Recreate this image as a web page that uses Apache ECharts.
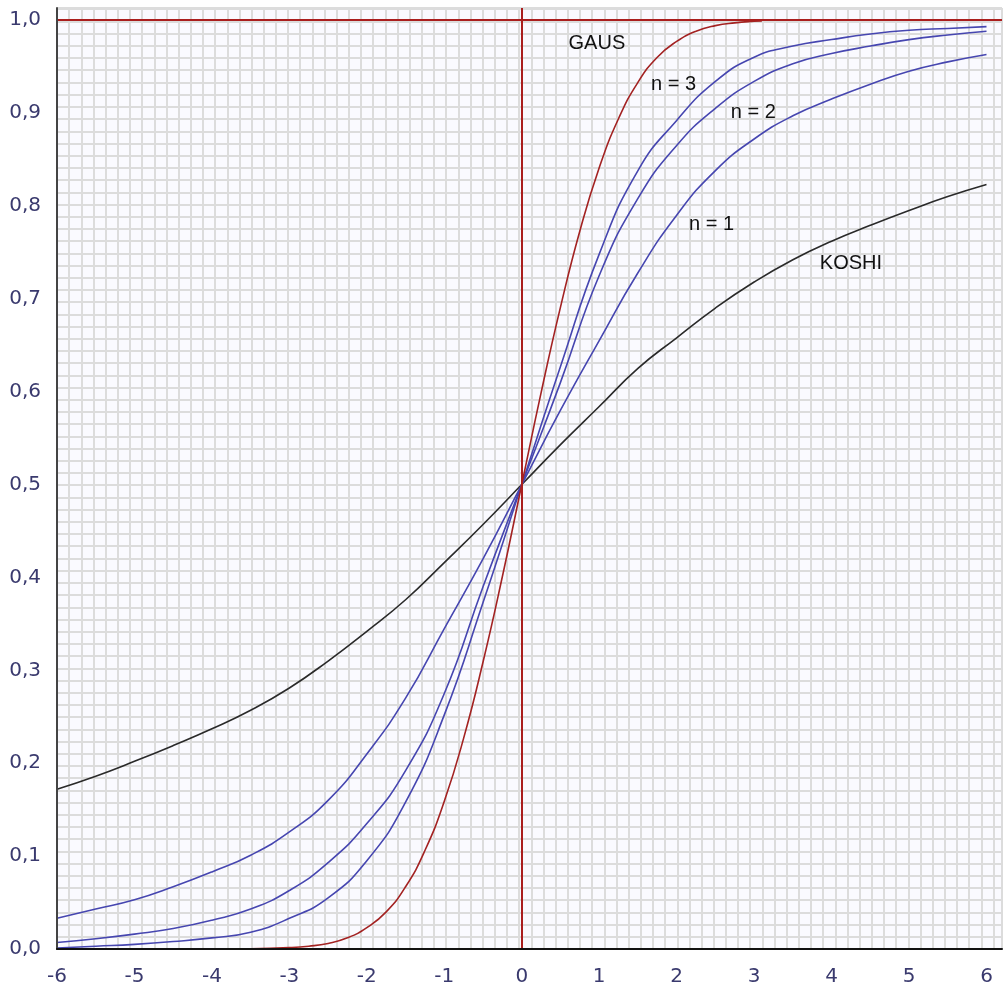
<!DOCTYPE html>
<html>
<head>
<meta charset="utf-8">
<title>GAUS / KOSHI</title>
<script src="https://cdn.jsdelivr.net/npm/echarts@6/dist/echarts.min.js"></script>
<style>
	html, body { margin: 0; padding: 0; background: #fff; }
	#chart { width: 1005px; height: 996px; }
</style>
</head>
<body>
<div id="chart"></div>
<script>
// x values shared by the blue curves and KOSHI
var xs = [-6, -5.5, -5, -4.5, -4, -3.5, -3, -2.5, -2, -1.5, -1, -0.5, 0,
	0.5, 1, 1.5, 2, 2.5, 3, 3.5, 4, 4.5, 5, 5.5, 6];
var koshi = [0.172, 0.186, 0.202, 0.219, 0.237, 0.257, 0.281, 0.31, 0.342, 0.376, 0.416, 0.457, 0.5,
	0.543, 0.584, 0.625, 0.658, 0.69, 0.718, 0.742, 0.762, 0.779, 0.795, 0.81, 0.823];
var n1 = [0.033, 0.043, 0.053, 0.067, 0.083, 0.101, 0.126, 0.16, 0.21, 0.27, 0.345, 0.42, 0.5,
	0.58, 0.655, 0.728, 0.79, 0.838, 0.872, 0.897, 0.915, 0.931, 0.945, 0.955, 0.963];
var n2 = [0.007, 0.011, 0.016, 0.022, 0.031, 0.043, 0.063, 0.093, 0.135, 0.192, 0.275, 0.39, 0.5,
	0.61, 0.725, 0.808, 0.865, 0.905, 0.934, 0.953, 0.964, 0.972, 0.979, 0.984, 0.988];
var n3 = [0.001, 0.003, 0.005, 0.008, 0.012, 0.018, 0.033, 0.055, 0.095, 0.158, 0.252, 0.373, 0.5,
	0.627, 0.748, 0.838, 0.892, 0.934, 0.96, 0.972, 0.979, 0.985, 0.989, 0.991, 0.993];

// GAUS is drawn from -4 to about 3.1
var gx = [-4, -3.5, -3, -2.75, -2.5, -2.25, -2, -1.75, -1.5, -1.25, -1, -0.75, -0.5, -0.25, 0,
	0.25, 0.5, 0.75, 1, 1.25, 1.5, 1.75, 2, 2.25, 2.5, 2.75, 3, 3.1];
var gaus = [0, 0.0003, 0.0015, 0.003, 0.006, 0.012, 0.023, 0.04, 0.067, 0.106, 0.159, 0.227, 0.309, 0.401, 0.5,
	0.599, 0.691, 0.773, 0.841, 0.894, 0.933, 0.96, 0.977, 0.988, 0.994, 0.997, 0.9987, 0.999];

var xTicks = [-6, -5, -4, -3, -2, -1, 0, 1, 2, 3, 4, 5, 6];
var yTicks = ['0,0', '0,1', '0,2', '0,3', '0,4', '0,5', '0,6', '0,7', '0,8', '0,9', '1,0'];

// curve captions: [text, x, y]
var captions = [
	['GAUS', 0.97, 0.975],
	['n = 3', 1.96, 0.931],
	['n = 2', 2.99, 0.9],
	['n = 1', 2.45, 0.78],
	['KOSHI', 4.25, 0.738]
];

function pairs(x, y) {
	var out = [];
	for (var i = 0; i < x.length; i++) {
		out.push([x[i], y[i]]);
	}
	return out;
}

var chart = echarts.init(document.getElementById('chart'));

var blue = '#4646b0';

function captionPoint(c) {
	return {
		symbol: 'circle',
		symbolSize: 1,
		silent: true,
		itemStyle: { color: 'rgba(0,0,0,0)' },
		label: {
			show: true,
			position: 'inside',
			formatter: c[0],
			color: '#111',
			fontSize: 20,
			fontFamily: 'Liberation Sans, Arial, sans-serif'
		},
		data: [{ coord: [c[1], c[2]] }]
	};
}

function curve(name, x, y, color, z, cap) {
	return {
		name: name,
		type: 'line',
		data: pairs(x, y),
		smooth: true,
		symbol: 'none',
		lineStyle: { color: color, width: 1.6 },
		markPoint: captionPoint(cap),
		z: z
	};
}

var gausSeries = curve('GAUS', gx, gaus, '#a32222', 4, captions[0]);
gausSeries.markLine = {
	silent: true,
	symbol: 'none',
	label: { show: false },
	lineStyle: { color: '#aa1e1e', width: 2, type: 'solid' },
	data: [{ yAxis: 1 }, { xAxis: 0 }]
};

var option = {
	animation: false,
	backgroundColor: '#ffffff',
	grid: {
		left: 57,
		right: 0,
		top: 8,
		bottom: 47,
		show: true,
		backgroundColor: '#fafaff',
		borderWidth: 0
	},
	xAxis: [
		{
			type: 'value',
			min: -6,
			max: 6.2,
			interval: 1,
			axisLine: { show: true, onZero: false, lineStyle: { color: '#111', width: 2 } },
			axisTick: { show: false },
			splitLine: { show: false },
			axisLabel: {
				margin: 18,
				color: '#3a3a6e',
				fontSize: 20,
				fontFamily: 'DejaVu Sans, sans-serif',
				formatter: function (v) {
					return xTicks.indexOf(Math.round(v * 1000) / 1000) >= 0 ? String(v) : '';
				}
			},
			z: 5
		},
		{
			// helper axis, only for the fine square grid
			type: 'value',
			min: 0,
			max: 77.7,
			interval: 1,
			axisLine: { show: false },
			axisTick: { show: false },
			axisLabel: { show: false },
			splitLine: { show: true, lineStyle: { color: '#dcdcdc', width: 2 } }
		}
	],
	yAxis: [
		{
			type: 'value',
			min: 0,
			max: 1.013,
			interval: 0.1,
			axisLine: { show: true, onZero: false, lineStyle: { color: '#444', width: 2 } },
			axisTick: { show: false },
			splitLine: { show: false },
			axisLabel: {
				margin: 16,
				color: '#3a3a6e',
				fontSize: 20,
				fontFamily: 'DejaVu Sans, sans-serif',
				formatter: function (v) {
					var k = Math.round(v * 10);
					if (Math.abs(v * 10 - k) > 0.01) return '';
					return yTicks[k] || '';
				}
			},
			z: 5
		},
		{
			type: 'value',
			min: 0,
			max: 77.1,
			interval: 1,
			axisLine: { show: false },
			axisTick: { show: false },
			axisLabel: { show: false },
			splitLine: { show: true, lineStyle: { color: '#dcdcdc', width: 2 } }
		}
	],
	series: [
		curve('KOSHI', xs, koshi, '#2a2a2a', 3, captions[4]),
		curve('n = 1', xs, n1, blue, 3, captions[3]),
		curve('n = 2', xs, n2, blue, 3, captions[2]),
		curve('n = 3', xs, n3, blue, 3, captions[1]),
		gausSeries
	]
};

chart.setOption(option);
</script>
</body>
</html>
